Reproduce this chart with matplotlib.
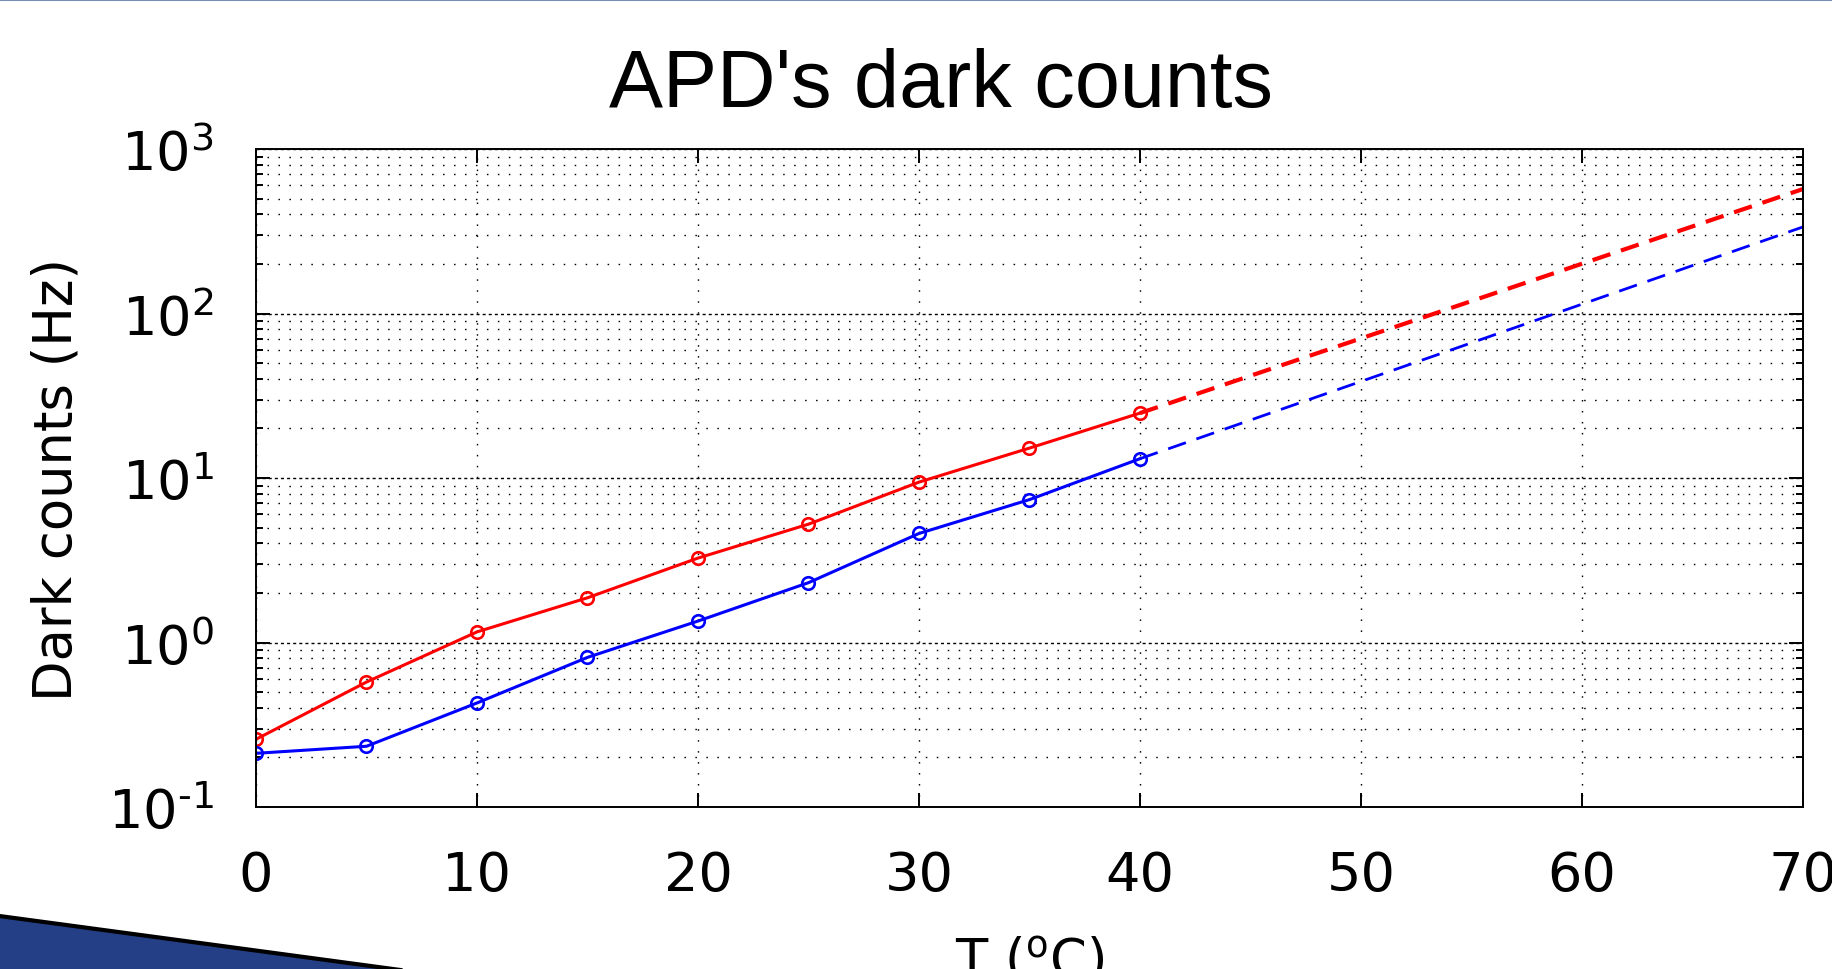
import numpy as np
import matplotlib.pyplot as plt
from matplotlib.patches import Polygon
from matplotlib.lines import Line2D
from matplotlib.ticker import LogLocator, NullFormatter, FuncFormatter

plt.rcParams['lines.scale_dashes'] = False
plt.rcParams['axes.unicode_minus'] = False
plt.rcParams['font.family'] = 'DejaVu Sans'

# measured points (0..40 C) and the dashed extrapolation up to 70 C
temp = [0, 5, 10, 15, 20, 25, 30, 35, 40]
red_counts = [0.258, 0.575, 1.16, 1.87, 3.26, 5.24, 9.44, 15.2, 24.8]
blue_counts = [0.212, 0.234, 0.429, 0.812, 1.35, 2.31, 4.60, 7.39, 13.1]
fit_temp = [40, 70]
red_fit = [24.8, 571]
blue_fit = [13.1, 336]
xticks = [0, 10, 20, 30, 40, 50, 60, 70]


def pow10(v, pos):
    e = int(round(np.log10(v)))
    if e < 0:
        return r'$10^{\text{-}%d}$' % (-e)
    return r'$10^{%d}$' % e


fig = plt.figure(figsize=(18.33, 9.70), dpi=100)
ax = fig.add_axes([0.13966, 0.16701, 0.84397, 0.67835])

ax.plot(fit_temp, red_fit, color='#ff0000', lw=3.0, ls=(0, (13.5, 8)))
ax.plot(fit_temp, blue_fit, color='#0000ff', lw=2.0, ls=(0, (13.5, 8)))
ax.plot(temp, red_counts, color='#ff0000', lw=2.2, marker='o', ms=9,
        mfc='none', mew=1.9)
ax.plot(temp, blue_counts, color='#0000ff', lw=2.2, marker='o', ms=9,
        mfc='none', mew=1.9)

ax.set_yscale('log')
ax.set_xlim(0, 70)
ax.set_ylim(0.1, 1000)
ax.set_xticks(xticks)
ax.yaxis.set_major_locator(LogLocator(base=10, numticks=10))
ax.yaxis.set_major_formatter(FuncFormatter(pow10))
ax.yaxis.set_minor_locator(LogLocator(base=10, subs=np.arange(2, 10), numticks=20))
ax.yaxis.set_minor_formatter(NullFormatter())

ax.set_axisbelow(True)
ax.grid(True, which='major', axis='x', color='k', lw=1.0, ls=(0, (1.1, 6.8)))
ax.grid(True, which='major', axis='y', color='k', lw=1.0, ls=(0, (2.2, 2.2)))
ax.grid(True, which='minor', axis='y', color='k', lw=1.0, ls=(0, (1.1, 6.8)))

ax.tick_params(which='both', direction='in', top=True, right=True, width=1.4,
               labelsize=39)
ax.tick_params(which='major', length=10)
ax.tick_params(which='minor', length=5)
ax.tick_params(axis='x', pad=30)
ax.tick_params(axis='y', pad=30.5)
for s in ax.spines.values():
    s.set_linewidth(1.4)

ax.set_title("APD's dark counts", family='Liberation Sans', fontsize=58.3,
             x=0.4428, y=1.0646, pad=0)
ax.set_ylabel('Dark counts (Hz)', fontsize=38, va='center')
ax.yaxis.set_label_coords(-0.129, 0.5)
ax.set_xlabel('T ($^{\\mathrm{o}}$C)', fontsize=38, va='baseline')
ax.xaxis.set_label_coords(0.5, -0.2584)

# slide decoration: blue wedge bottom-left and thin line on top
fig.patches.append(Polygon([(-0.01, 0.0571), (0.236, -0.0055), (-0.01, -0.0055)],
                           closed=True, transform=fig.transFigure,
                           facecolor='#243f85', edgecolor='none'))
fig.lines.append(Line2D([-0.01, 0.236], [0.0571, -0.0055], color='k', lw=3,
                        transform=fig.transFigure))
fig.lines.append(Line2D([0, 1], [0.9993, 0.9993], color='#7b8db5', lw=1.5,
                        transform=fig.transFigure))

fig.savefig('out.png', dpi=100)
